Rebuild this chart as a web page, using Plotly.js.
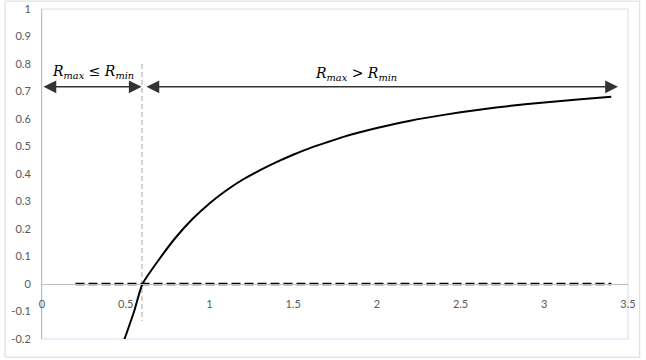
<!DOCTYPE html>
<html>
<head>
<meta charset="utf-8">
<script src="https://cdn.plot.ly/plotly-3.0.1.min.js"></script>
<style>html,body{margin:0;padding:0;background:#fff;}#chart{width:646px;height:360px;}</style>
</head>
<body>
<div id="chart"></div>
<script>
// Curve values
const curveX = [0.49, 0.55, 0.6, 0.7, 0.8, 0.9, 1.0, 1.1, 1.2, 1.3, 1.4, 1.5, 1.6, 1.7, 1.8, 2.0, 2.2, 2.4, 2.6, 2.8, 3.0, 3.2, 3.4];
const curveY = [-0.205, -0.1, 0.0, 0.09, 0.17, 0.237, 0.293, 0.34, 0.38, 0.413, 0.443, 0.47, 0.494, 0.515, 0.535, 0.567, 0.594, 0.615, 0.633, 0.648, 0.66, 0.671, 0.681];
// Dashed zero reference line
const zeroX = [0.2, 3.4];
const zeroY = [0, 0];
// Vertical divider
const dividerX = [0.597, 0.597];
const dividerY = [0.8, -0.135];
// Ticks
const xTickVals = [0, 0.5, 1, 1.5, 2, 2.5, 3, 3.5];
const xTickText = ["0", "0.5", "1", "1.5", "2", "2.5", "3", "3.5"];
const yTickVals = [-0.2, -0.1, 0, 0.1, 0.2, 0.3, 0.4, 0.5, 0.6, 0.7, 0.8, 0.9, 1];
const yTickText = ["-0.2", "-0.1", "0", "0.1", "0.2", "0.3", "0.4", "0.5", "0.6", "0.7", "0.8", "0.9", "1"];
// Region arrows and labels
const arrowY = 0.717;
const leftArrow = [0.0, 0.595];
const rightArrow = [0.615, 3.44];
const leftLabel = "<i>R</i><sub><i>max</i></sub> ≤ <i>R</i><sub><i>min</i></sub>";
const rightLabel = "<i>R</i><sub><i>max</i></sub> > <i>R</i><sub><i>min</i></sub>";
const leftLabelPos = [0.305, 0.77];
const rightLabelPos = [1.875, 0.765];

const traces = [
  {x: dividerX, y: dividerY, mode: 'lines', line: {color: '#a6a6a6', width: 1, dash: '5px,3px'}, hoverinfo: 'skip', showlegend: false},
  {x: zeroX, y: zeroY, mode: 'lines', line: {color: '#000', width: 2.5, dash: '9px,4px'}, hoverinfo: 'skip', showlegend: false},
  {x: curveX, y: curveY, mode: 'lines', line: {color: '#000', width: 2, shape: 'spline', smoothing: 0.6}, showlegend: false}
];

const tickFont = {family: 'Lato, "Open Sans", sans-serif', size: 11, color: '#595959'};
const mathFont = {family: '"DejaVu Serif", "Liberation Serif", serif', size: 14, color: '#000'};

function arrow(x0, x1) {
  return {x: x1, y: arrowY, ax: x0, ay: arrowY, xref: 'x', yref: 'y', axref: 'x', ayref: 'y',
    text: '', showarrow: true, arrowhead: 2, startarrowhead: 2, arrowside: 'end+start',
    arrowsize: 1.7, startarrowsize: 1.7, arrowwidth: 1.5, arrowcolor: '#333', standoff: 0, startstandoff: 0};
}

const layout = {
  width: 646, height: 360,
  margin: {l: 42, r: 18, t: 9, b: 21},
  paper_bgcolor: '#fff', plot_bgcolor: '#fff',
  showlegend: false,
  xaxis: {range: [0, 3.5], tickvals: xTickVals, ticktext: xTickText, showgrid: false, zeroline: false,
    showline: true, linecolor: '#bfbfbf', linewidth: 1, ticks: '', anchor: 'free', position: 0.16667,
    tickfont: tickFont, ticklabelstandoff: 10},
  yaxis: {range: [-0.2, 1], tickvals: yTickVals, ticktext: yTickText, showgrid: false, zeroline: false,
    showline: true, linecolor: '#bfbfbf', linewidth: 1, ticks: '', domain: [0, 1],
    tickfont: tickFont, ticklabelstandoff: 8},
  shapes: [
    {type: 'rect', xref: 'paper', yref: 'paper', x0: 0, x1: 1, y0: 0, y1: 1, line: {color: '#cfe0f1', width: 1}, layer: 'below'},
    {type: 'rect', xref: 'paper', yref: 'paper', x0: -0.063, x1: 1.02, y0: -0.055, y1: 1.024, line: {color: '#d9d9d9', width: 1}, layer: 'below'}
  ],
  annotations: [
    arrow(leftArrow[0], leftArrow[1]),
    arrow(rightArrow[0], rightArrow[1]),
    {x: leftLabelPos[0], y: leftLabelPos[1], xref: 'x', yref: 'y', text: leftLabel, showarrow: false, font: mathFont},
    {x: rightLabelPos[0], y: rightLabelPos[1], xref: 'x', yref: 'y', text: rightLabel, showarrow: false, font: mathFont}
  ]
};

Plotly.newPlot('chart', traces, layout, {displayModeBar: false, staticPlot: true});
</script>
</body>
</html>
